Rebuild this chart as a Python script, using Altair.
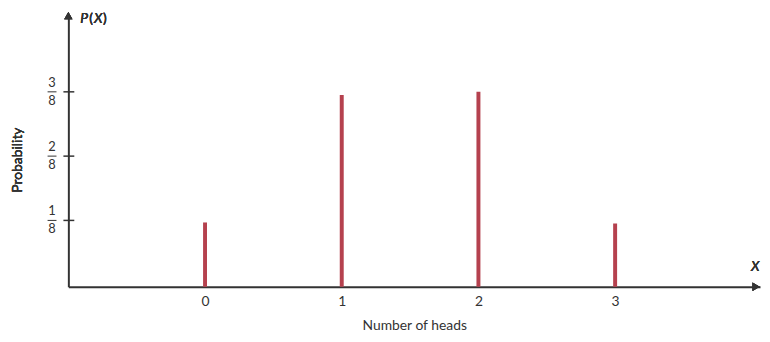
import altair as alt
import pandas as pd

heads = [0, 1, 2, 3]
probs = [0.121, 0.369, 0.375, 0.119]
frac_nums = ["1", "2", "3"]
frac_vals = [1 / 8, 2 / 8, 3 / 8]

W, H = 699, 276
FONT = "Lato"
INK = "#333333"
BAR = "#b5414e"

bars_df = pd.DataFrame({"x": heads, "p": probs})
frac_df = pd.DataFrame({"num": frac_nums, "v": frac_vals})

xs = alt.Scale(domain=[-1, 4.06], nice=False, zero=False)
ys = alt.Scale(domain=[-0.004, 0.527], nice=False, zero=False)

base_x = alt.X("x:Q", scale=xs,
               axis=alt.Axis(values=heads, title="Number of heads", grid=False,
                             ticks=False, domainColor=INK, domainWidth=2,
                             labelFont=FONT, labelFontSize=14, labelColor=INK,
                             labelPadding=8, titleFont=FONT, titleFontSize=14,
                             titleFontWeight="normal", titleColor=INK,
                             titlePadding=10, format="d"))
base_y = alt.Y("p:Q", scale=ys,
               axis=alt.Axis(labels=False, ticks=False, grid=False, title=None,
                             domainColor=INK, domainWidth=2, values=[]))

bars = alt.Chart(bars_df).mark_rule(color=BAR, strokeWidth=4).encode(
    x=base_x, y=base_y, y2=alt.value(H))

ticks = alt.Chart(frac_df).mark_rule(color=INK, strokeWidth=1.5).encode(
    y=alt.Y("v:Q", scale=ys), x=alt.value(-5), x2=alt.value(6))
fbar = alt.Chart(frac_df).mark_rule(color=INK, strokeWidth=1).encode(
    y=alt.Y("v:Q", scale=ys), x=alt.value(-21), x2=alt.value(-12))
num = alt.Chart(frac_df).mark_text(font=FONT, fontSize=13, color=INK, dy=-9,
                                   align="center", baseline="middle").encode(
    y=alt.Y("v:Q", scale=ys), x=alt.value(-16.5), text="num:N")
den = alt.Chart(frac_df).mark_text(font=FONT, fontSize=13, color=INK, dy=9,
                                   align="center", baseline="middle").encode(
    y=alt.Y("v:Q", scale=ys), x=alt.value(-16.5), text=alt.value("8"))

prob_title = alt.Chart(bars_df).mark_text(font=FONT, fontSize=14, color=INK,
                                          angle=270, align="center",
                                          baseline="middle").encode(
    x=alt.value(-51), y=alt.value(148), text=alt.value("Probability"))

up_arrow = alt.Chart(bars_df).mark_point(shape="triangle-up", filled=True,
                                         color=INK, size=70, opacity=1).encode(
    x=alt.value(0), y=alt.value(2))
right_arrow = alt.Chart(bars_df).mark_point(shape="triangle-right", filled=True,
                                            color=INK, size=70, opacity=1).encode(
    x=alt.value(W - 4), y=alt.value(H))

def lbl(t, x, y, style="normal"):
    return alt.Chart(bars_df).mark_text(font=FONT, fontSize=14, color=INK,
                                        fontStyle=style, align="left",
                                        baseline="middle").encode(
        x=alt.value(x), y=alt.value(y), text=alt.value(t))

px = lbl("P", 12, 5, "italic") + lbl("(", 21, 5) + lbl("X", 26, 5, "italic") + lbl(")", 35, 5)
xr = lbl("X", W - 9, H - 20, "italic")

chart = alt.layer(bars, ticks, fbar, num, den, prob_title, up_arrow, right_arrow,
                  px, xr).properties(
    width=W, height=H,
    background="white",
    autosize=alt.AutoSizeParams(type="none"),
    padding={"left": 61, "top": 4, "right": 2, "bottom": 44},
).configure_view(strokeWidth=0, stroke="transparent")

chart.save("out.html", embed_options={"renderer": "svg", "actions": False})
